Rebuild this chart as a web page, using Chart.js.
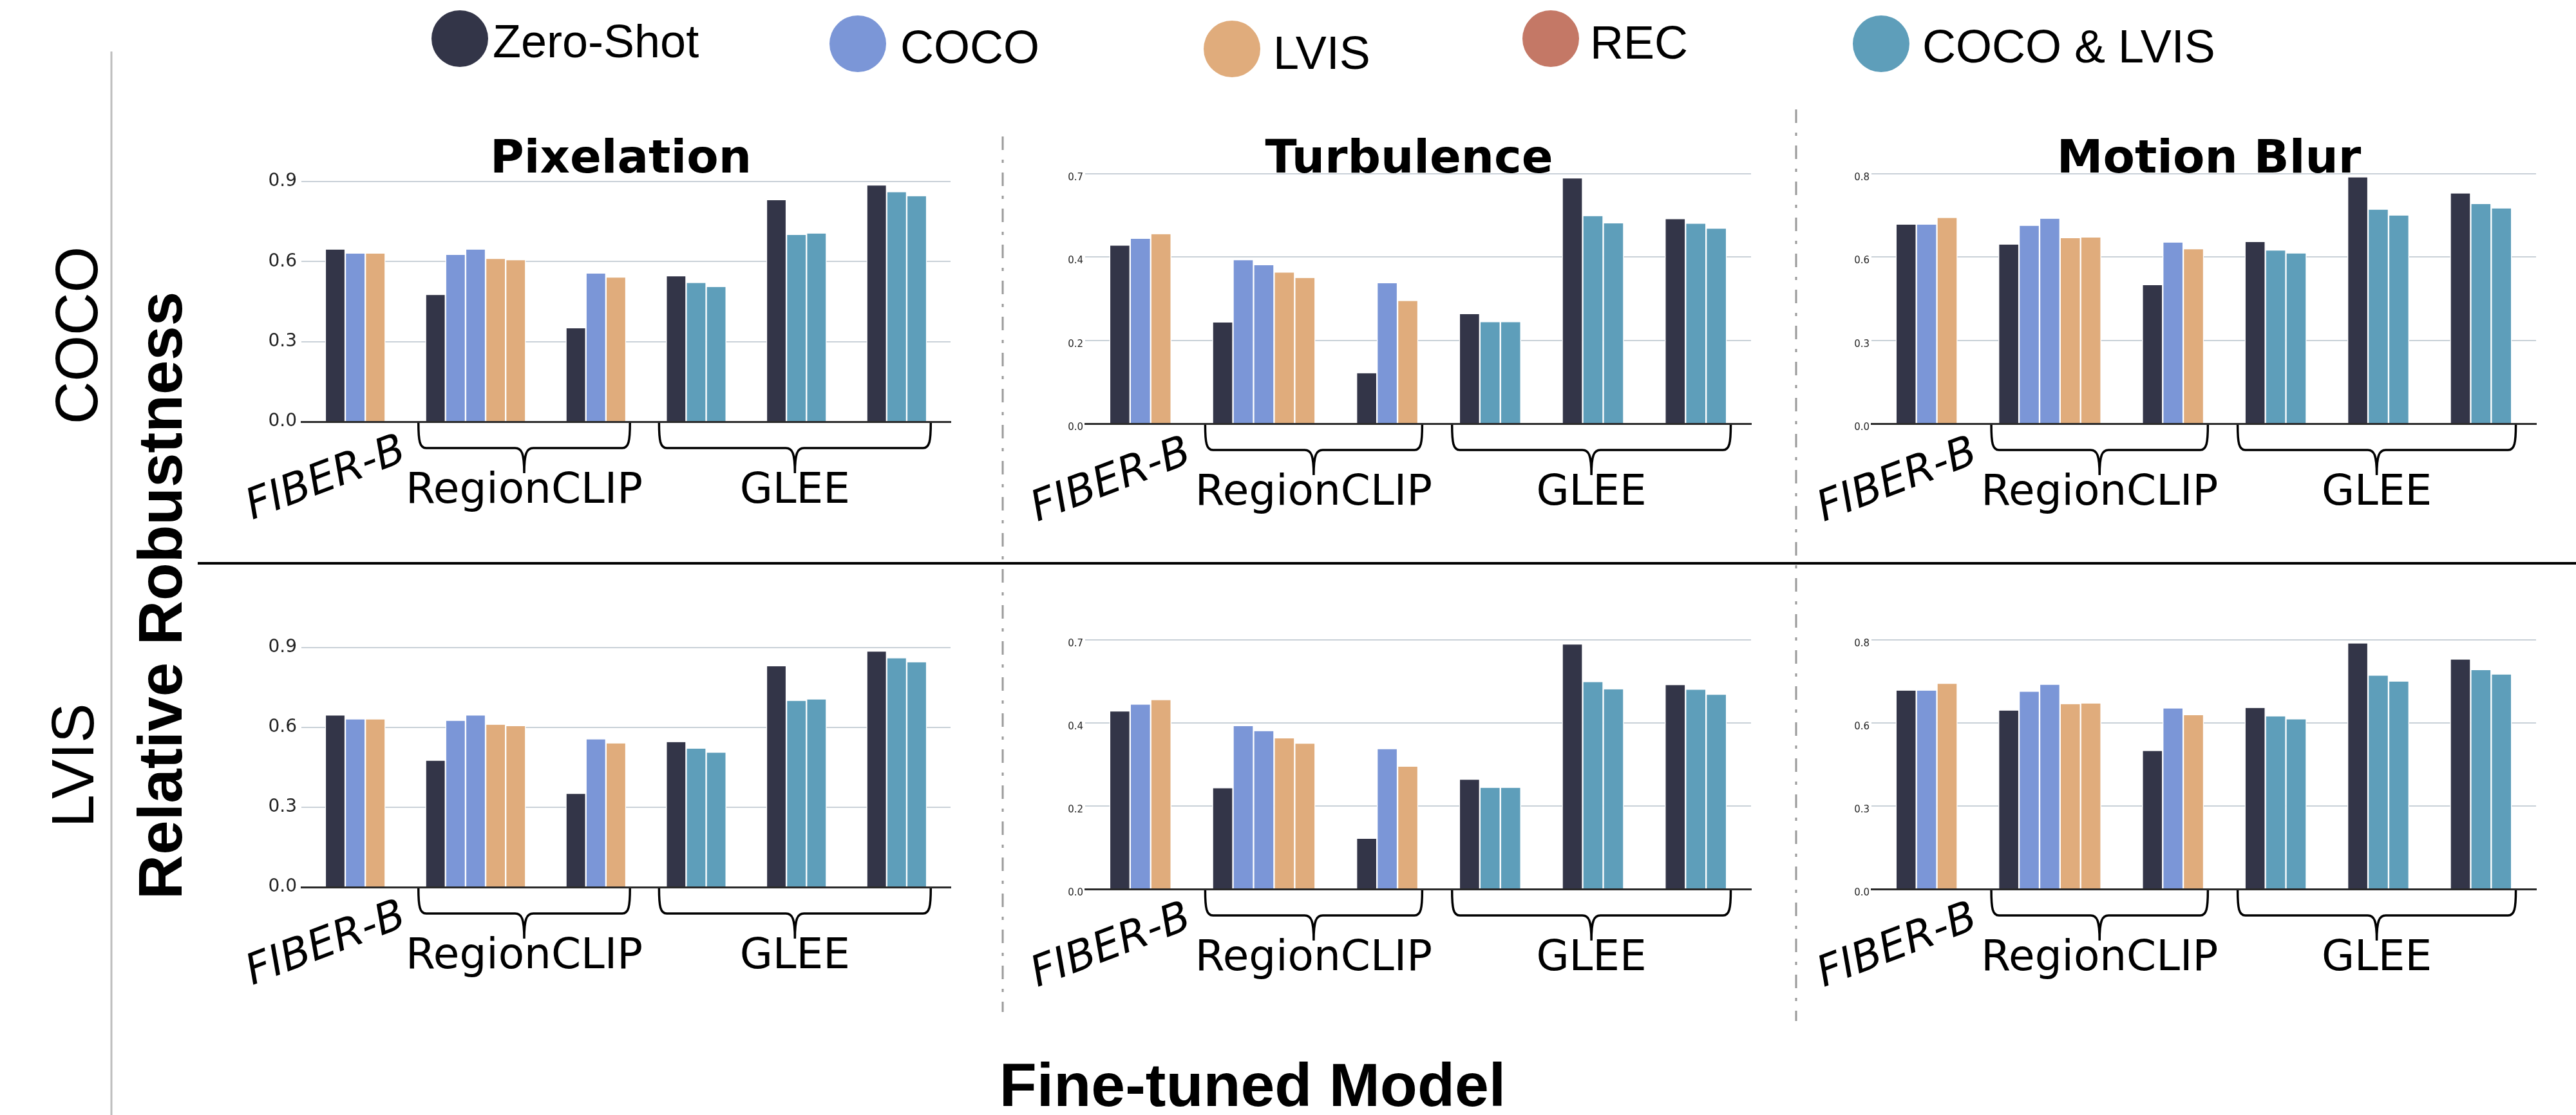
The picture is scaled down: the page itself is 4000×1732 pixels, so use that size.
<!DOCTYPE html>
<html>
<head>
<meta charset="utf-8">
<script src="https://cdn.jsdelivr.net/npm/chart.js@4.4.1/dist/chart.umd.min.js"></script>
<style>
  html, body { margin: 0; padding: 0; background: #fff; }
  #figure { position: relative; width: 4000px; height: 1732px; overflow: hidden; background: #fff;
            font-family: 'Liberation Sans', Arial, sans-serif; color: #000; }
  .panel { position: absolute; }
  .txt { position: absolute; white-space: nowrap; line-height: 1; }
  .legend { font-size: 72px; transform: translateY(-50%); }
  .dot { position: absolute; width: 88px; height: 88px; border-radius: 50%; }
  .rot { transform: translate(-50%, -50%) rotate(-90deg); }
  .mid { transform: translate(-50%, -50%); }
  #lines { position: absolute; left: 0; top: 0; }
</style>
</head>
<body>
<div id="figure">
  <svg id="lines" width="4000" height="1732">
    <line x1="173" y1="80" x2="173" y2="1732" stroke="#bdbdbd" stroke-width="3"/>
    <line x1="307" y1="875" x2="4000" y2="875" stroke="#000" stroke-width="4"/>
    <line x1="1557" y1="212" x2="1557" y2="1572" stroke="#9a9a9a" stroke-width="3" stroke-dasharray="21 15 5 15"/>
    <line x1="2789" y1="170" x2="2789" y2="1586" stroke="#9a9a9a" stroke-width="3" stroke-dasharray="21 15 5 15"/>
  </svg>
  <div class="txt rot" style="left:119px; top:521px; font-size:92px;">COCO</div>
  <div class="txt rot" style="left:113px; top:1189px; font-size:92px;">LVIS</div>
  <div class="txt rot" style="left:249px; top:925px; font-size:96px; font-weight:bold;">Relative Robustness</div>
  <div class="txt mid" style="left:1945px; top:1685px; font-size:95px; font-weight:bold;">Fine-tuned Model</div>
</div>
<script>
// series and model groups
const seriesNames = ['Zero-Shot', 'COCO', 'LVIS', 'REC', 'COCO & LVIS'];
const modelGroups = ['FIBER-B', 'RegionCLIP', 'RegionCLIP', 'GLEE', 'GLEE', 'GLEE'];
const groupBars = [
    ['Zero-Shot', 'COCO', 'LVIS'],
    ['Zero-Shot', 'COCO', 'COCO', 'LVIS', 'LVIS'],
    ['Zero-Shot', 'COCO', 'LVIS'],
    ['Zero-Shot', 'COCO & LVIS', 'COCO & LVIS'],
    ['Zero-Shot', 'COCO & LVIS', 'COCO & LVIS'],
    ['Zero-Shot', 'COCO & LVIS', 'COCO & LVIS']
];
const distortions = ['Pixelation', 'Turbulence', 'Motion Blur'];
const evalSets = ['COCO', 'LVIS'];

// relative robustness per group (same bars for both rows)
const pixelationValues = [
    [0.645, 0.63, 0.63],
    [0.475, 0.625, 0.645, 0.61, 0.605],
    [0.35, 0.555, 0.54],
    [0.545, 0.52, 0.505],
    [0.83, 0.70, 0.705],
    [0.885, 0.86, 0.845]
];
const turbulenceValues = [
    [0.463, 0.481, 0.493],
    [0.263, 0.425, 0.412, 0.393, 0.379],
    [0.131, 0.365, 0.319],
    [0.285, 0.264, 0.264],
    [0.638, 0.540, 0.521],
    [0.532, 0.520, 0.507]
];
const motionBlurValues = [
    [0.677, 0.677, 0.700],
    [0.609, 0.673, 0.697, 0.631, 0.633],
    [0.471, 0.616, 0.593],
    [0.618, 0.589, 0.579],
    [0.838, 0.728, 0.708],
    [0.783, 0.747, 0.732]
];

// y axes: four ticks at thirds of the max, labels as printed
const axisMax = [0.9, 0.65, 0.85];
const pixelationTicks = ['0.0', '0.3', '0.6', '0.9'];
const turbulenceTicks = ['0.0', '0.2', '0.4', '0.7'];
const motionBlurTicks = ['0.0', '0.3', '0.6', '0.8'];

const panelValues = [pixelationValues, turbulenceValues, motionBlurValues];
const panelTicks = [pixelationTicks, turbulenceTicks, motionBlurTicks];

// styles and layout
const seriesColors = {
    'Zero-Shot': '#333548',
    'COCO': '#7b96d7',
    'LVIS': '#e0ac7c',
    'REC': '#c47866',
    'COCO & LVIS': '#5e9eba'
};
const legendDotX = [714, 1332, 1913, 2408, 2921];
const legendDotY = [60, 68, 76, 60, 68];
const legendTextX = [765, 1398, 1977, 2469, 2985];
const legendTextY = [64, 73, 82, 66, 72];

const colLeft = [468, 1685, 2906];
const colRight = [1476, 2719, 3938];
const rowTop = [[282, 270, 270], [1006, 994, 994]];
const rowBottom = [[655, 658, 658], [1378, 1381, 1381]];
const titleCenterX = [964, 2188, 3430];
const titleBaseline = 268;
const tickFontSize = [28, 15, 15];
const tickPadding = [7, 3, 3];
const tickShift = [0, 6, 6];
const padL = 140, padT = 130, padR = 20, padB = 190;
const slotMargin = 0.68;

// bar slots: bars side by side, two empty slots between groups
const slots = (() => {
    let s = 0;
    return groupBars.map(bars => {
        const start = s;
        s += bars.length + 2;
        return bars.map((_, k) => start + k);
    });
})();
const lastSlot = slots[slots.length - 1][slots[slots.length - 1].length - 1];

// merge neighbouring groups of the same model into one labelled span
const spans = [];
modelGroups.forEach((name, g) => {
    const prev = spans[spans.length - 1];
    const first = slots[g][0];
    const last = slots[g][slots[g].length - 1];
    if (prev && prev.name === name) {
        prev.to = last;
        prev.groups += 1;
    } else {
        spans.push({ name: name, from: first, to: last, groups: 1 });
    }
});

const makeDatasets = (values) => {
    return seriesNames.map(name => {
        const data = [];
        groupBars.forEach((bars, g) => {
            bars.forEach((s, k) => {
                if (s === name) data.push({ x: slots[g][k], y: values[g][k] });
            });
        });
        return {
            label: name,
            data: data,
            backgroundColor: seriesColors[name],
            borderColor: '#ffffff',
            borderWidth: { left: 1.5, right: 1.5, top: 0, bottom: 0 },
            borderSkipped: false,
            grouped: false,
            barPercentage: 1,
            categoryPercentage: 1
        };
    }).filter(d => d.data.length > 0);
};

const drawBrace = (ctx, x1, x2, y0) => {
    const xc = (x1 + x2) / 2;
    const yh = y0 + 41;
    const yt = y0 + 80;
    ctx.beginPath();
    ctx.moveTo(x1, y0 + 2);
    ctx.bezierCurveTo(x1, y0 + 30, x1 + 2, yh, x1 + 12, yh);
    ctx.lineTo(xc - 14, yh);
    ctx.bezierCurveTo(xc - 4, yh, xc, yh + 8, xc, yt);
    ctx.bezierCurveTo(xc, yh + 8, xc + 4, yh, xc + 14, yh);
    ctx.lineTo(x2 - 12, yh);
    ctx.bezierCurveTo(x2 - 2, yh, x2, y0 + 30, x2, y0 + 2);
    ctx.lineWidth = 3.5;
    ctx.strokeStyle = '#000';
    ctx.stroke();
};

// titles, braces and model names under each panel
const decorPlugin = {
    id: 'decor',
    afterDraw(chart, args, opts) {
        const ctx = chart.ctx;
        const xs = chart.scales.x;
        const y0 = chart.chartArea.bottom;
        ctx.save();
        ctx.fillStyle = '#000';
        if (opts.title) {
            ctx.font = 'bold 72px "DejaVu Sans"';
            ctx.textAlign = 'center';
            ctx.textBaseline = 'alphabetic';
            ctx.fillText(opts.title, opts.titleX, opts.titleY);
        }
        spans.forEach(span => {
            if (span.groups === 1) {
                const cx = xs.getPixelForValue((span.from + span.to) / 2) - 45;
                ctx.save();
                ctx.translate(cx, y0 + 90);
                ctx.rotate(-21 * Math.PI / 180);
                ctx.font = 'italic 66px "DejaVu Sans"';
                ctx.textAlign = 'center';
                ctx.textBaseline = 'middle';
                ctx.fillText(span.name, 0, 0);
                ctx.restore();
            } else {
                const x1 = xs.getPixelForValue(span.from - 0.85);
                const x2 = xs.getPixelForValue(span.to + 0.7);
                drawBrace(ctx, x1, x2, y0);
                ctx.font = '66px "DejaVu Sans"';
                ctx.textAlign = 'center';
                ctx.textBaseline = 'alphabetic';
                ctx.fillText(span.name, (x1 + x2) / 2, y0 + 126);
            }
        });
        ctx.restore();
    }
};

const fig = document.getElementById('figure');

// legend
seriesNames.forEach((name, i) => {
    const dot = document.createElement('div');
    dot.className = 'dot';
    dot.style.left = (legendDotX[i] - 44) + 'px';
    dot.style.top = (legendDotY[i] - 44) + 'px';
    dot.style.background = seriesColors[name];
    fig.appendChild(dot);
    const label = document.createElement('div');
    label.className = 'txt legend';
    label.textContent = name;
    label.style.left = legendTextX[i] + 'px';
    label.style.top = legendTextY[i] + 'px';
    fig.appendChild(label);
});

// six panels: rows are the evaluation sets, columns the distortions
evalSets.forEach((evalSet, r) => {
    distortions.forEach((distortion, c) => {
        const left = colLeft[c] - padL;
        const top = rowTop[r][c] - padT;
        const width = colRight[c] - colLeft[c] + padL + padR;
        const height = rowBottom[r][c] - rowTop[r][c] + padT + padB;
        const canvas = document.createElement('canvas');
        canvas.className = 'panel';
        canvas.width = width;
        canvas.height = height;
        canvas.style.left = left + 'px';
        canvas.style.top = top + 'px';
        canvas.style.width = width + 'px';
        canvas.style.height = height + 'px';
        fig.insertBefore(canvas, fig.firstChild);

        const maxY = axisMax[c];
        const tickLabels = panelTicks[c];

        new Chart(canvas.getContext('2d'), {
            type: 'bar',
            data: { datasets: makeDatasets(panelValues[c]) },
            options: {
                responsive: false,
                animation: false,
                devicePixelRatio: 1,
                layout: { padding: { left: 0, top: padT, right: padR, bottom: padB } },
                plugins: {
                    legend: { display: false },
                    tooltip: { enabled: false },
                    decor: {
                        title: r === 0 ? distortion : null,
                        titleX: titleCenterX[c] - left,
                        titleY: titleBaseline - top
                    }
                },
                scales: {
                    x: {
                        type: 'linear',
                        min: -0.5 - slotMargin,
                        max: lastSlot + 0.5 + slotMargin,
                        grid: { display: false, drawTicks: false },
                        ticks: { display: false, stepSize: 1, includeBounds: false },
                        border: { display: true, color: '#2a2a2a', width: 3, z: 1 },
                        afterFit: s => { s.height = 0; }
                    },
                    y: {
                        min: 0,
                        max: maxY,
                        afterBuildTicks: axis => {
                            axis.ticks = tickLabels.map((_, i) => ({ value: maxY * i / (tickLabels.length - 1) }));
                        },
                        afterFit: s => { s.width = padL; },
                        grid: { color: '#c9d1d8', lineWidth: 2, drawTicks: false },
                        border: { display: false },
                        ticks: {
                            padding: tickPadding[c],
                            labelOffset: tickShift[c],
                            color: '#222',
                            font: { family: 'DejaVu Sans', size: tickFontSize[c] },
                            callback: (v, i) => tickLabels[i]
                        }
                    }
                }
            },
            plugins: [decorPlugin]
        });
    });
});
</script>
</body>
</html>
